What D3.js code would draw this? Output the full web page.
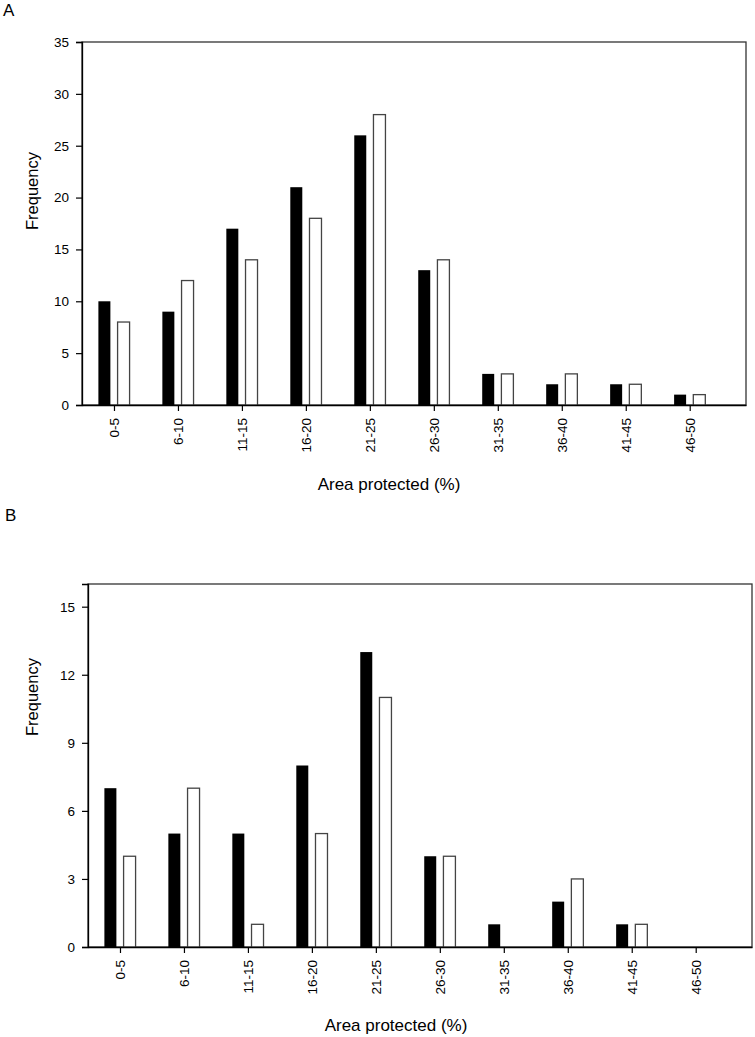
<!DOCTYPE html>
<html><head><meta charset="utf-8">
<script src="https://cdn.jsdelivr.net/npm/d3@7"></script>
<style>body{margin:0;background:#fff}svg{display:block}text{font-family:Arial,"Liberation Sans",sans-serif;fill:#000}</style>
</head><body>
<script>
const categories = ["0-5","6-10","11-15","16-20","21-25","26-30","31-35","36-40","41-45","46-50"];
const seriesA_black = [10,9,17,21,26,13,3,2,2,1];
const seriesA_white = [8,12,14,18,28,14,3,3,2,1];
const seriesB_black = [7,5,5,8,13,4,1,2,1,0];
const seriesB_white = [4,7,1,5,11,4,0,3,1,0];
const ticksA = [0,5,10,15,20,25,30,35];
const ticksB = [0,3,6,9,12,15];

const svg = d3.select("body").append("svg").attr("width",755).attr("height",1037);

function panel(cfg){
  const g = svg.append("g");
  const x = d3.scaleLinear().domain([-0.5, 9.88]).range([cfg.left, cfg.right]);
  const y = d3.scaleLinear().domain([0, cfg.ymax]).range([cfg.bottom, cfg.top]);
  const bw = x(0.1875) - x(0);
  g.append("rect").attr("x",cfg.left).attr("y",cfg.top).attr("width",cfg.right-cfg.left).attr("height",cfg.bottom-cfg.top)
    .attr("fill","none").attr("stroke","#333").attr("stroke-width",1.3);
  const data = categories.map((c,i)=>({c,i,b:cfg.black[i],w:cfg.white[i]}));
  g.selectAll(".bb").data(data.filter(d=>d.b>0)).join("rect")
    .attr("x",d=>x(d.i-0.15)-bw/2).attr("width",bw)
    .attr("y",d=>y(d.b)).attr("height",d=>y(0)-y(d.b)).attr("fill","#000");
  g.selectAll(".wb").data(data.filter(d=>d.w>0)).join("rect")
    .attr("x",d=>x(d.i+0.15)-bw/2).attr("width",bw)
    .attr("y",d=>y(d.w)).attr("height",d=>y(0)-y(d.w)).attr("fill","#fff")
    .attr("stroke","#444").attr("stroke-width",1.3);
  const ya = g.append("g").attr("transform",`translate(${cfg.left},0)`)
    .call(d3.axisLeft(y).tickValues(cfg.ticks).tickSize(6).tickPadding(7));
  ya.attr("font-size",null).attr("font-family",null);
  ya.select(".domain").attr("stroke","#000").attr("stroke-width",1.3);
  ya.selectAll(".tick line").attr("stroke","#000").attr("stroke-width",1.2);
  ya.selectAll("text").style("font-size","13.5px").style("font-family","Arial,'Liberation Sans',sans-serif");
  const xa = g.append("g").attr("transform",`translate(0,${cfg.bottom})`)
    .call(d3.axisBottom(x).tickValues(d3.range(categories.length)).tickFormat(i=>categories[i]).tickSize(6).tickSizeOuter(0));
  xa.attr("font-size",null).attr("font-family",null);
  xa.select(".domain").attr("stroke","#000").attr("stroke-width",1.3);
  xa.selectAll(".tick line").attr("stroke","#000").attr("stroke-width",1.2);
  xa.selectAll("text").style("font-size","13.5px").style("font-family","Arial,'Liberation Sans',sans-serif")
    .attr("transform","rotate(-90)").attr("text-anchor","end").attr("x",-13).attr("y",0).attr("dy","0.35em");
  g.append("text").attr("x",cfg.xtx).attr("y",cfg.xty).attr("text-anchor","middle").style("font-size","17px").text("Area protected (%)");
  g.append("text").attr("transform",`translate(${cfg.ytx},${cfg.yty}) rotate(-90)`).attr("text-anchor","middle").style("font-size","16.5px").text("Frequency");
  g.append("text").attr("x",cfg.lx).attr("y",cfg.ly).style("font-size","17px").text(cfg.label);
}

panel({left:82,right:746,top:42,bottom:405,ymax:35,ticks:ticksA,black:seriesA_black,white:seriesA_white,
  xtx:389,xty:490,ytx:38,yty:191,lx:3,ly:16,label:"A"});
panel({left:88,right:752,top:584,bottom:947,ymax:16,ticks:ticksB,black:seriesB_black,white:seriesB_white,
  xtx:396,xty:1031,ytx:38,yty:697,lx:5,ly:521,label:"B"});
</script>
</body></html>
